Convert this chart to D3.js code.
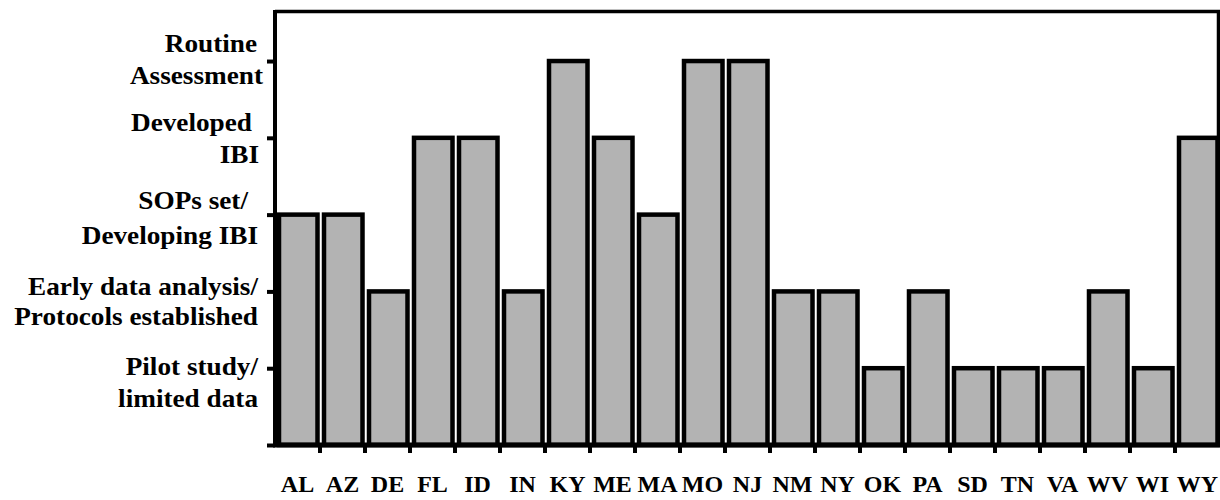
<!DOCTYPE html>
<html>
<head>
<meta charset="utf-8">
<script src="https://cdn.jsdelivr.net/npm/d3@7"></script>
<style>
  html, body { margin: 0; padding: 0; background: #fff; }
  svg { display: block; }
</style>
</head>
<body>
<svg id="chart" width="1220" height="500"></svg>
<script>
// ---- data ----
const categories = ["AL","AZ","DE","FL","ID","IN","KY","ME","MA","MO","NJ","NM","NY","OK","PA","SD","TN","VA","WV","WI","WY"];
const values = [3,3,2,4,4,2,5,4,3,5,5,2,2,1,2,1,1,1,2,1,4];
const levelTicks = [0,1,2,3,4,5];
const levelLabels = [
  [],
  ["Pilot study/", "limited data"],
  ["Early data analysis/", "Protocols established"],
  ["SOPs set/", "Developing IBI"],
  ["Developed", "IBI"],
  ["Routine", "Assessment"]
];

// ---- layout ----
const FONT = "Liberation Serif";
const svg = d3.select("#chart");
const plotL = 275, plotR = 1220, plotT = 11.5, plotB = 445;

const x = d3.scaleBand().domain(categories).range([plotL, plotR]).paddingInner(0).paddingOuter(0);
const y = d3.scaleLinear().domain([0, 5.645]).range([plotB, plotT]);

// bars
svg.append("g").selectAll("rect")
  .data(categories.map((c, i) => ({c, v: values[i]})))
  .join("rect")
  .attr("x", d => x(d.c) + 4)
  .attr("width", x.bandwidth() - 6.5)
  .attr("y", d => y(d.v))
  .attr("height", d => y(0) - y(d.v))
  .attr("fill", "#b3b3b3")
  .attr("stroke", "#000")
  .attr("stroke-width", 4.5);

// frame (top & right)
svg.append("path")
  .attr("d", `M${plotL},${plotT}H${plotR - 1.5}V${plotB}`)
  .attr("fill", "none").attr("stroke", "#000").attr("stroke-width", 3.5);

// y axis
const yAxis = d3.axisLeft(y).tickValues(levelTicks).tickSize(8).tickFormat("");
const gy = svg.append("g").attr("transform", `translate(${plotL},0)`).call(yAxis);
gy.select(".domain").remove();
gy.selectAll(".tick line").attr("stroke", "#000").attr("stroke-width", 4);
svg.append("line").attr("x1", plotL).attr("x2", plotL).attr("y1", plotT - 1.5).attr("y2", plotB + 2)
  .attr("stroke", "#000").attr("stroke-width", 4);

// x axis
const xAxis = d3.axisBottom(x).tickSize(0).tickFormat(d => d);
const gx = svg.append("g").attr("transform", `translate(0,${plotB})`).call(xAxis)
  .attr("font-family", FONT).attr("font-weight", "bold").attr("font-size", 24);
gx.select(".domain").remove();
gx.selectAll(".tick text")
  .attr("y", 47).attr("dy", 0)
  .attr("font-family", FONT)
  .attr("font-weight", "bold")
  .attr("font-size", 24)
  .attr("fill", "#000");
// band boundary ticks
svg.append("g").selectAll("line")
  .data(categories.slice(1))
  .join("line")
  .attr("x1", d => x(d)).attr("x2", d => x(d))
  .attr("y1", plotB).attr("y2", plotB + 8)
  .attr("stroke", "#000").attr("stroke-width", 4);
svg.append("line").attr("x1", plotL - 2).attr("x2", plotR).attr("y1", plotB).attr("y2", plotB)
  .attr("stroke", "#000").attr("stroke-width", 5);

// y labels (two lines each)
const lineOffsets = {1: [7, 39], 2: [4, 34], 3: [-6, 29], 4: [-7, 25], 5: [-9, 23]};
const lineEnds = {1: [258, 258], 2: [258, 258], 3: [248, 258], 4: [252, 259], 5: [257, 263]};
const gl = svg.append("g");
levelTicks.forEach(t => {
  levelLabels[t].forEach((line, j) => {
    gl.append("text")
      .attr("transform", `translate(${lineEnds[t][j]},${y(t) + lineOffsets[t][j]}) scale(1.09,1)`)
      .attr("text-anchor", "end")
      .attr("font-family", FONT)
      .attr("font-weight", "bold")
      .attr("font-size", 25)
      .attr("fill", "#000")
      .text(line);
  });
});
</script>
</body>
</html>
